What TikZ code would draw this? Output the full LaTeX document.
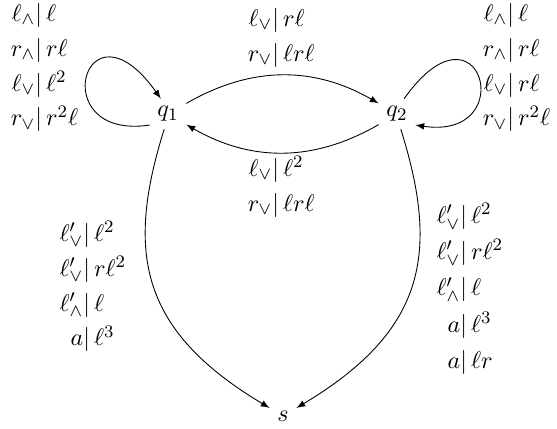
\documentclass[tikz,border=0pt]{standalone}
\usetikzlibrary{arrows}
\newcommand{\lbl}[2]{\makebox[3em][r]{$#1|$}\makebox[3em][l]{$\,#2$}}
\newcommand{\labtab}[2][1.205]{{\def\arraystretch{#1}\begin{tabular}{@{}c@{}}#2\end{tabular}}}
\begin{document}
\begin{tikzpicture}[x=0.4545pt,y=-0.4545pt,>=latex,
  every node/.style={font=\fontsize{11}{13.2}\selectfont},
  state/.style={inner sep=0.3333em},
  lab/.style={inner sep=0pt},
  arc/.style={->}]
\useasboundingbox (0,0) rectangle (557,428);
\node[state] (q1) at (168,114) {$q_1$};
\node[state] (q2) at (397,114) {$q_2$};
\node[state] (s) at (283,416) {$s$};

\draw[arc] (q1) to[bend left=30] (q2);
\draw[arc] (q2) to[bend left=30] (q1);
\draw[arc] (q1.211) .. controls +(-106,16) and +(-76.4,-107.8) .. (q1.115);
\draw[arc] (q2.65) .. controls +(76.4,-107.8) and +(106,16) .. (q2.-31);
\draw[arc] (q1.256) .. controls +(-39,124) and +(-129,-77) .. (s.149);
\draw[arc] (q2.284) .. controls +(39,124) and +(129,-77) .. (s.31);

\node[lab] (l1) at (42,66.5) {\labtab{\lbl{\ell_\wedge}{\ell}\\ \lbl{r_\wedge}{r\ell}\\ \lbl{\ell_\vee}{\ell^2}\\ \lbl{r_\vee}{r^2\ell}}};
\node[lab] (l2) at (514,66.5) {\labtab{\lbl{\ell_\wedge}{\ell}\\ \lbl{r_\wedge}{r\ell}\\ \lbl{\ell_\vee}{r\ell}\\ \lbl{r_\vee}{r^2\ell}}};
\node[lab] (l3) at (279,36.5) {\labtab{\lbl{\ell_\vee}{r\ell}\\ \lbl{r_\vee}{\ell r\ell}}};
\node[lab] (l4) at (279,186.5) {\labtab{\lbl{\ell_\vee}{\ell^2}\\ \lbl{r_\vee}{\ell r\ell}}};
\node[lab] (l5) at (90,286.5) {\labtab{\lbl{\ell'_\vee}{\ell^2}\\ \lbl{\ell'_\vee}{r\ell^2}\\ \lbl{\ell'_\wedge}{\ell}\\ \lbl{a}{\ell^3}}};
\node[lab] (l6) at (467,288.7) {\labtab[1.248]{\lbl{\ell'_\vee}{\ell^2}\\ \lbl{\ell'_\vee}{r\ell^2}\\ \lbl{\ell'_\wedge}{\ell}\\ \lbl{a}{\ell^3}\\ \lbl{a}{\ell r}}};
\end{tikzpicture}
\end{document}
